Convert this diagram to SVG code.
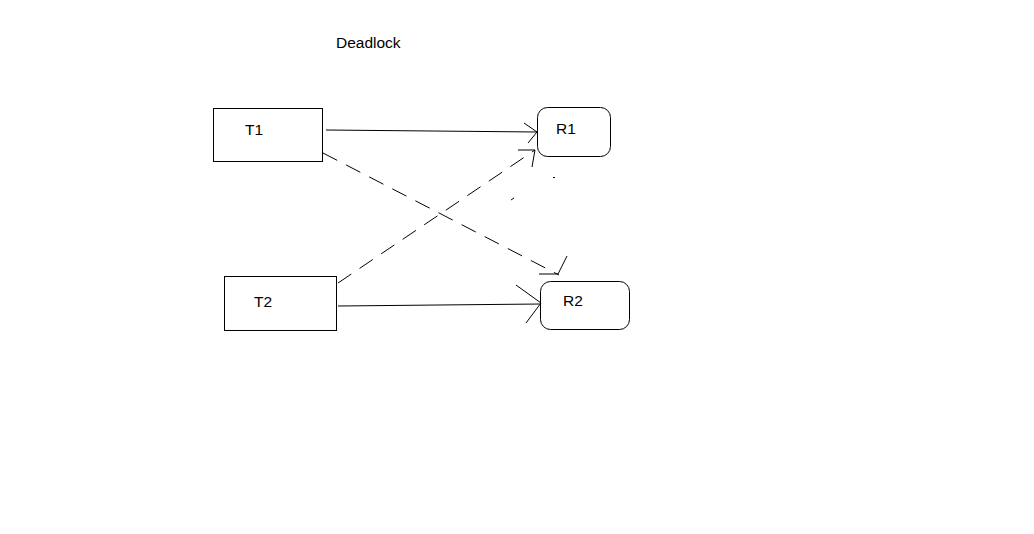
<svg xmlns="http://www.w3.org/2000/svg" width="1034" height="534" viewBox="0 0 1034 534">
<style>
.box{fill:#fff;stroke:#000;stroke-width:1}
.lbl{font-family:"Liberation Sans",Arial,sans-serif;font-size:15.5px;fill:#000}
.ln{stroke:#000;stroke-width:1;fill:none}
.dash{stroke-dasharray:16 10}
</style>
<rect width="1034" height="534" fill="#fff"/>
<text class="lbl" x="336" y="48">Deadlock</text>
<g id="T1"><rect class="box" x="213.5" y="108.5" width="109" height="53"/><text class="lbl" x="245" y="135">T1</text></g>
<g id="T2"><rect class="box" x="224.5" y="276.5" width="112" height="54"/><text class="lbl" x="254" y="307">T2</text></g>
<g id="R1"><rect class="box" x="537.5" y="107.5" width="73" height="49" rx="10"/><text class="lbl" x="556" y="134">R1</text></g>
<g id="R2"><rect class="box" x="540.5" y="281.5" width="89" height="48" rx="10"/><text class="lbl" x="563" y="306">R2</text></g>
<g id="connectors">
<path class="ln" d="M326,130 L537,132 M524,123 L537,132 L528,143"/>
<path class="ln dash" d="M338,283 L535,150"/>
<path class="ln" d="M518,150 L535,150 L532,167"/>
<path class="ln dash" d="M323,153 L559,275"/>
<path class="ln" d="M539,274 L558,274 L567,256"/>
<path class="ln" d="M338,306 L541,304 M516,285 L541,303 L526,323"/>
<path class="ln" d="M553,177.5 L555,177.5 M511,200 L514,198"/>
</g>
</svg>
